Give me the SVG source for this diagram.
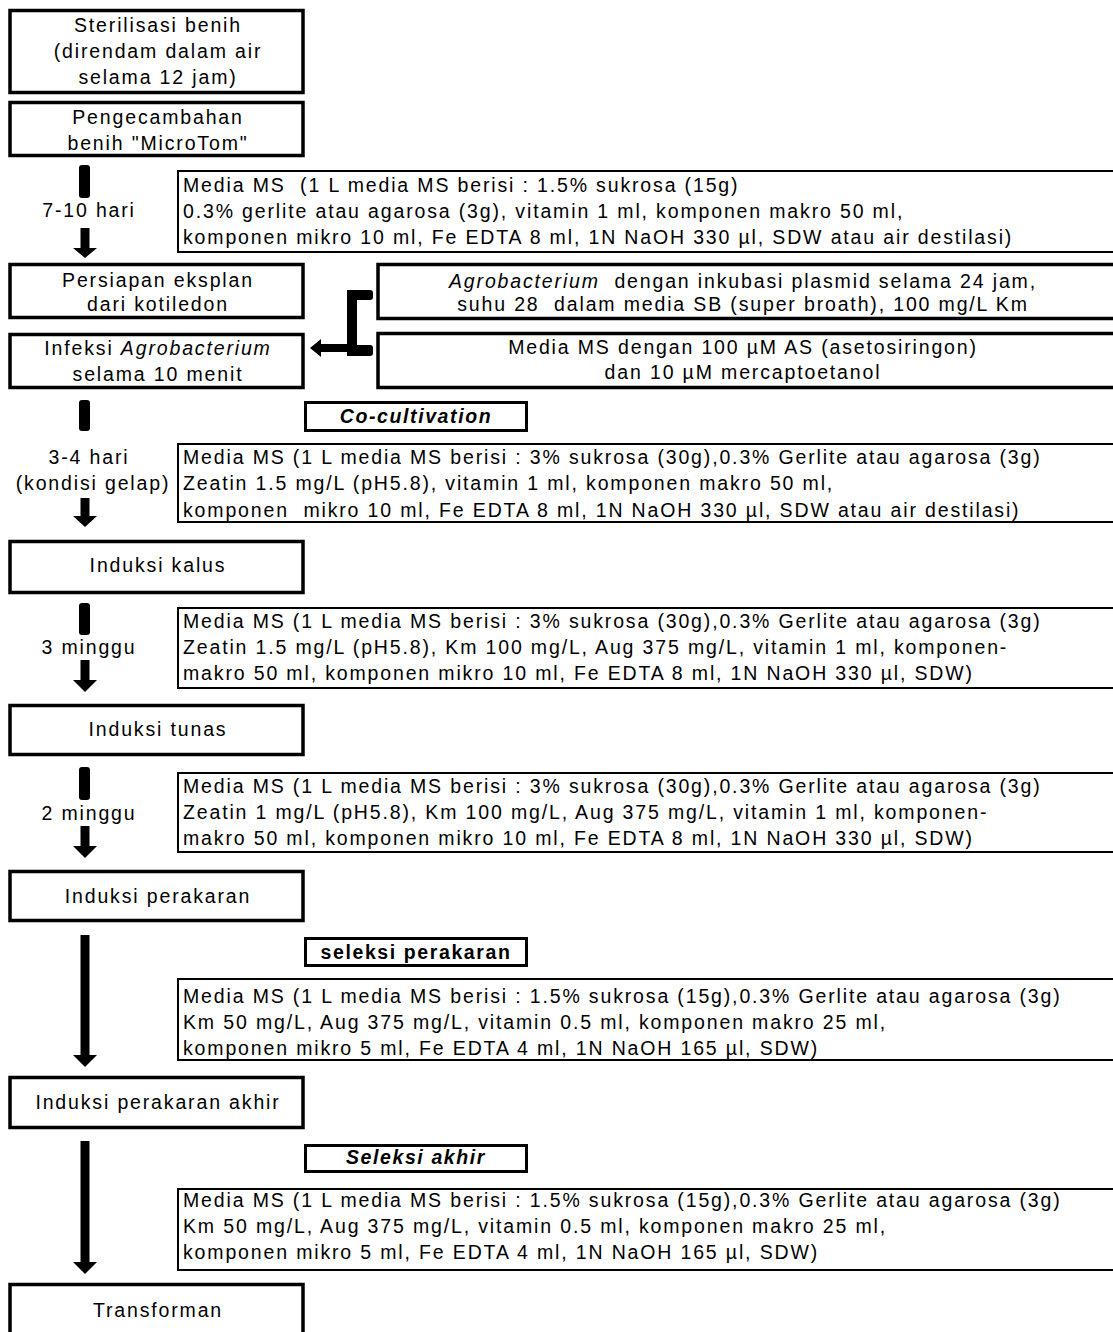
<svg xmlns="http://www.w3.org/2000/svg" width="1113" height="1332" viewBox="0 0 1113 1332">
<style>
text{font-family:"Liberation Sans",Arial,sans-serif;font-size:19.5px;letter-spacing:1.85px;fill:#000;white-space:pre}
.c{text-anchor:middle}
.b{font-weight:bold;letter-spacing:1.6px}
.i{font-style:italic}
.box{fill:#fff;stroke:#000;stroke-width:3.5}
.lbl{fill:#fff;stroke:#000;stroke-width:3}
.med{fill:#fff;stroke:#000;stroke-width:2}
.ar{fill:#000}
</style>
<rect width="1113" height="1332" fill="#fff"/>

<g id="n1"><rect class="box" x="10" y="10.5" width="293" height="82"/>
<text class="c" x="158" y="31.5">Sterilisasi benih</text>
<text class="c" x="158" y="57.5">(direndam dalam air</text>
<text class="c" x="158" y="83.5">selama 12 jam)</text></g>

<g id="n2"><rect class="box" x="10" y="102.5" width="293" height="53"/>
<text class="c" x="158" y="123.5">Pengecambahan</text>
<text class="c" x="158" y="149.5">benih "MicroTom"</text></g>

<g id="m1"><rect class="med" x="178" y="171" width="945" height="81"/>
<text x="183" y="191.5">Media MS  (1 L media MS berisi : 1.5% sukrosa (15g)</text>
<text x="183" y="217.5">0.3% gerlite atau agarosa (3g), vitamin 1 ml, komponen makro 50 ml,</text>
<text x="183" y="243.5">komponen mikro 10 ml, Fe EDTA 8 ml, 1N NaOH 330 µl, SDW atau air destilasi)</text></g>

<g id="n3"><rect class="box" x="10" y="264.5" width="293" height="53"/>
<text class="c" x="158" y="286.5">Persiapan eksplan</text>
<text class="c" x="158" y="310.5">dari kotiledon</text></g>

<g id="n4"><rect class="box" x="10" y="334.5" width="293" height="53"/>
<text class="c" x="158" y="354.5">Infeksi <tspan class="i">Agrobacterium</tspan></text>
<text class="c" x="158" y="380.5">selama 10 menit</text></g>

<g id="agro"><rect class="box" x="378" y="264.5" width="745" height="54"/>
<text class="c" x="743" y="287.5"><tspan class="i">Agrobacterium</tspan>  dengan inkubasi plasmid selama 24 jam,</text>
<text class="c" x="743" y="310.5">suhu 28  dalam media SB (super broath), 100 mg/L Km</text></g>

<g id="as"><rect class="box" x="378" y="333.5" width="745" height="54"/>
<text class="c" x="743" y="353.5">Media MS dengan 100 µM AS (asetosiringon)</text>
<text class="c" x="743" y="378.5">dan 10 µM mercaptoetanol</text></g>

<g id="cocult"><rect class="lbl" x="305.5" y="402.5" width="221" height="28"/>
<text class="c b i" x="416" y="422.5">Co-cultivation</text></g>

<g id="m2"><rect class="med" x="178" y="444" width="945" height="78"/>
<text x="183" y="463.5">Media MS (1 L media MS berisi : 3% sukrosa (30g),0.3% Gerlite atau agarosa (3g)</text>
<text x="183" y="490">Zeatin 1.5 mg/L (pH5.8), vitamin 1 ml, komponen makro 50 ml,</text>
<text x="183" y="516.5">komponen  mikro 10 ml, Fe EDTA 8 ml, 1N NaOH 330 µl, SDW atau air destilasi)</text></g>

<g id="n5"><rect class="box" x="10" y="541.5" width="293" height="51"/>
<text class="c" x="158" y="571.5">Induksi kalus</text></g>

<g id="m3"><rect class="med" x="178" y="608" width="945" height="80"/>
<text x="183" y="627.5">Media MS (1 L media MS berisi : 3% sukrosa (30g),0.3% Gerlite atau agarosa (3g)</text>
<text x="183" y="653.5">Zeatin 1.5 mg/L (pH5.8), Km 100 mg/L, Aug 375 mg/L, vitamin 1 ml, komponen-</text>
<text x="183" y="680">makro 50 ml, komponen mikro 10 ml, Fe EDTA 8 ml, 1N NaOH 330 µl, SDW)</text></g>

<g id="n6"><rect class="box" x="10" y="705.5" width="293" height="49"/>
<text class="c" x="158" y="735.5">Induksi tunas</text></g>

<g id="m4"><rect class="med" x="178" y="773" width="945" height="79"/>
<text x="183" y="792.5">Media MS (1 L media MS berisi : 3% sukrosa (30g),0.3% Gerlite atau agarosa (3g)</text>
<text x="183" y="818.5">Zeatin 1 mg/L (pH5.8), Km 100 mg/L, Aug 375 mg/L, vitamin 1 ml, komponen-</text>
<text x="183" y="844.5">makro 50 ml, komponen mikro 10 ml, Fe EDTA 8 ml, 1N NaOH 330 µl, SDW)</text></g>

<g id="n7"><rect class="box" x="10" y="871.5" width="293" height="49"/>
<text class="c" x="158" y="902.5">Induksi perakaran</text></g>

<g id="selp"><rect class="lbl" x="305.5" y="938.5" width="221" height="27"/>
<text class="c b" x="416" y="958.5">seleksi perakaran</text></g>

<g id="m5"><rect class="med" x="178" y="979" width="945" height="81"/>
<text x="183" y="1002.5">Media MS (1 L media MS berisi : 1.5% sukrosa (15g),0.3% Gerlite atau agarosa (3g)</text>
<text x="183" y="1028.5">Km 50 mg/L, Aug 375 mg/L, vitamin 0.5 ml, komponen makro 25 ml,</text>
<text x="183" y="1054.5">komponen mikro 5 ml, Fe EDTA 4 ml, 1N NaOH 165 µl, SDW)</text></g>

<g id="n8"><rect class="box" x="10" y="1077.5" width="293" height="50"/>
<text class="c" x="158" y="1108.5">Induksi perakaran akhir</text></g>

<g id="sela"><rect class="lbl" x="305.5" y="1145.5" width="221" height="26"/>
<text class="c b i" x="416" y="1164">Seleksi akhir</text></g>

<g id="m6"><rect class="med" x="178" y="1189" width="945" height="81"/>
<text x="183" y="1206.5">Media MS (1 L media MS berisi : 1.5% sukrosa (15g),0.3% Gerlite atau agarosa (3g)</text>
<text x="183" y="1232.5">Km 50 mg/L, Aug 375 mg/L, vitamin 0.5 ml, komponen makro 25 ml,</text>
<text x="183" y="1258.5">komponen mikro 5 ml, Fe EDTA 4 ml, 1N NaOH 165 µl, SDW)</text></g>

<g id="n9"><rect class="box" x="10" y="1284.5" width="293" height="60"/>
<text class="c" x="158" y="1316.5">Transforman</text></g>

<g id="labels">
<text class="c" x="89" y="217">7-10 hari</text>
<text class="c" x="89" y="463.5">3-4 hari</text>
<text class="c" x="93" y="490">(kondisi gelap)</text>
<text class="c" x="89" y="653.5">3 minggu</text>
<text class="c" x="89" y="819.5">2 minggu</text>
</g>

<g id="connectors" class="ar">
<rect x="79" y="165" width="11" height="33" rx="3"/>
<rect x="80.5" y="228" width="9" height="21"/><polygon points="73,248 97,248 85,258"/>
<rect x="79" y="400" width="11" height="31" rx="3"/>
<rect x="80.5" y="498" width="9" height="19"/><polygon points="73,516 97,516 85,527"/>
<rect x="79" y="603" width="11" height="32" rx="3"/>
<rect x="80.5" y="660" width="9" height="21"/><polygon points="73,680 97,680 85,692"/>
<rect x="79" y="767" width="11" height="33" rx="3"/>
<rect x="80.5" y="826" width="9" height="21"/><polygon points="73,846 97,846 85,858"/>
<rect x="80.5" y="935" width="9" height="121"/><polygon points="73,1055 97,1055 85,1067"/>
<rect x="80.5" y="1141" width="9" height="122"/><polygon points="73,1262 97,1262 85,1274"/>
<rect x="347" y="290" width="10" height="66"/>
<rect x="347" y="290" width="26" height="10" rx="3"/>
<rect x="347" y="345" width="26" height="11" rx="3"/>
<rect x="320" y="344" width="30" height="8"/><polygon points="321,339 321,357 310,348"/>
</g>
</svg>
